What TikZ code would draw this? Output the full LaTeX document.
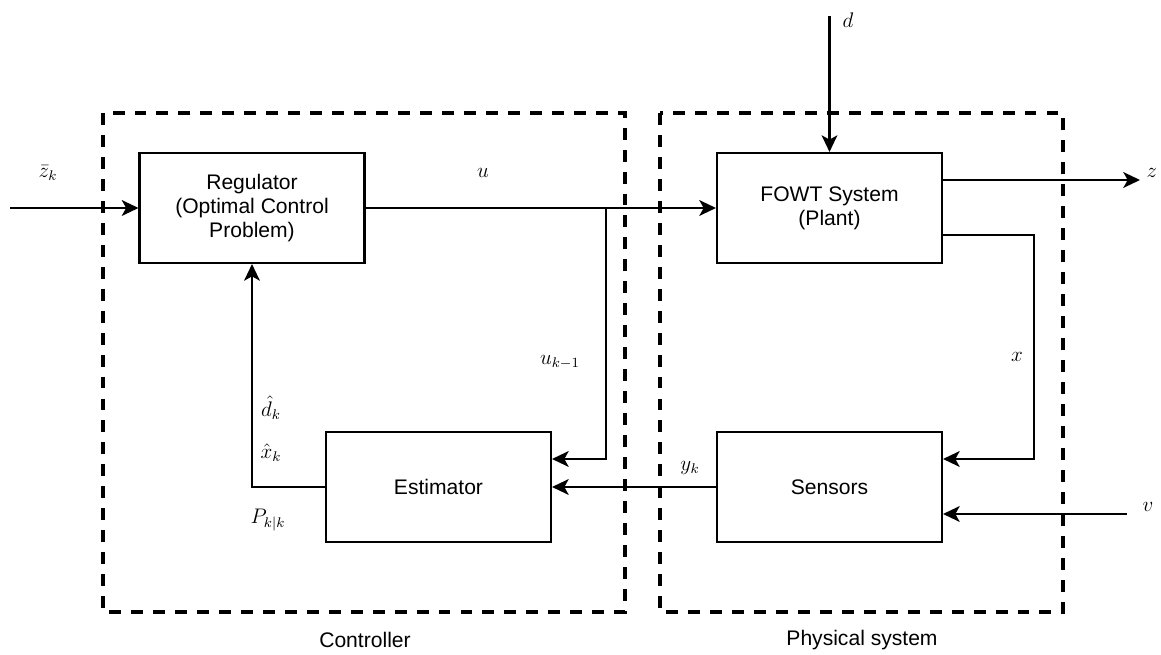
\documentclass[tikz,border=0pt]{standalone}
\usepackage{amsmath,amssymb}
\usepackage{fontspec}
\setmainfont{Liberation Sans}
\usetikzlibrary{arrows.meta,positioning,calc}

\tikzset{
  blockbox/.style={draw, line width=1.2pt, minimum width=4.5cm, minimum height=2.2cm,
    align=center, font=\fontsize{12}{13.5}\selectfont},
  groupbox/.style={draw, line width=2.1pt, dash pattern=on 6.8pt off 5.7pt},
  sig/.style={line width=1.2pt, -{Stealth[length=9.5pt,width=9pt,inset=2.5pt]}},
  lbl/.style={font=\fontsize{12}{14}\selectfont, inner sep=1pt},
}

\begin{document}
\begin{tikzpicture}[x=0.02cm, y=-0.02cm]
  \useasboundingbox (0,0) rectangle (1161,655);

  % the two groups
  \draw[groupbox] (103,113) rectangle (625,612);
  \draw[groupbox] (660,113) rectangle (1063,612);
  \node[lbl] (ctrltxt) at (365,640) {Controller};
  \node[lbl] (phystxt) at (862,640) {Physical system};

  % blocks
  \node[blockbox] (reg)   at (252,208)   {Regulator\\(Optimal Control\\Problem)};
  \node[blockbox] (plant) at (829.5,208) {FOWT System\\(Plant)};
  \node[blockbox] (est)   at (438.5,487) {Estimator};
  \node[blockbox] (sen)   at (829.5,487) {Sensors};

  % free ends
  \coordinate (zin)  at (10,208);
  \coordinate (br)   at (606,208);
  \coordinate (din)  at ($(plant.north)+(0,-136)$);
  \coordinate (zout) at (1140,180);
  \coordinate (xr)   at (1034,459);
  \coordinate (vin)  at (1127,514);

  % reference and input
  \draw[sig] (zin) -- (reg.west);
  \node[lbl] (zref) at (48,173) {$\bar{z}_k$};
  \draw[sig] (reg.east) -- (plant.west);
  \node[lbl] (ulbl) at (483,173) {$u$};
  \draw[sig] (br) |- ($(est.east)+(0,-28)$);
  \node[lbl] (uold) at (560,362) {$u_{k-1}$};

  % plant in and out
  \draw[sig] (din) -- (plant.north);
  \node[lbl] (dlbl) at (848,20) {$d$};
  \draw[sig] ($(plant.east)+(0,-28)$) -- (zout);
  \node[lbl] (zlbl) at (1152,173) {$z$};
  \draw[sig] ($(plant.east)+(0,27)$) -| (xr) -- ($(sen.east)+(0,-28)$);
  \node[lbl] (xlbl) at (1017,357) {$x$};
  \draw[sig] (vin) -- ($(sen.east)+(0,27)$);
  \node[lbl] (vlbl) at (1148,507) {$v$};

  % measurement and estimate
  \draw[sig] (sen.west) -- (est.east);
  \node[lbl] (ylbl) at (690,468) {$y_k$};
  \draw[sig] (est.west) -| (reg.south);
  \node[lbl] (dhat) at (271,408) {$\hat{d}_k$};
  \node[lbl] (xhat) at (271,453) {$\hat{x}_k$};
  \node[lbl] (pcov) at (268,520) {$P_{k|k}$};
\end{tikzpicture}
\end{document}
